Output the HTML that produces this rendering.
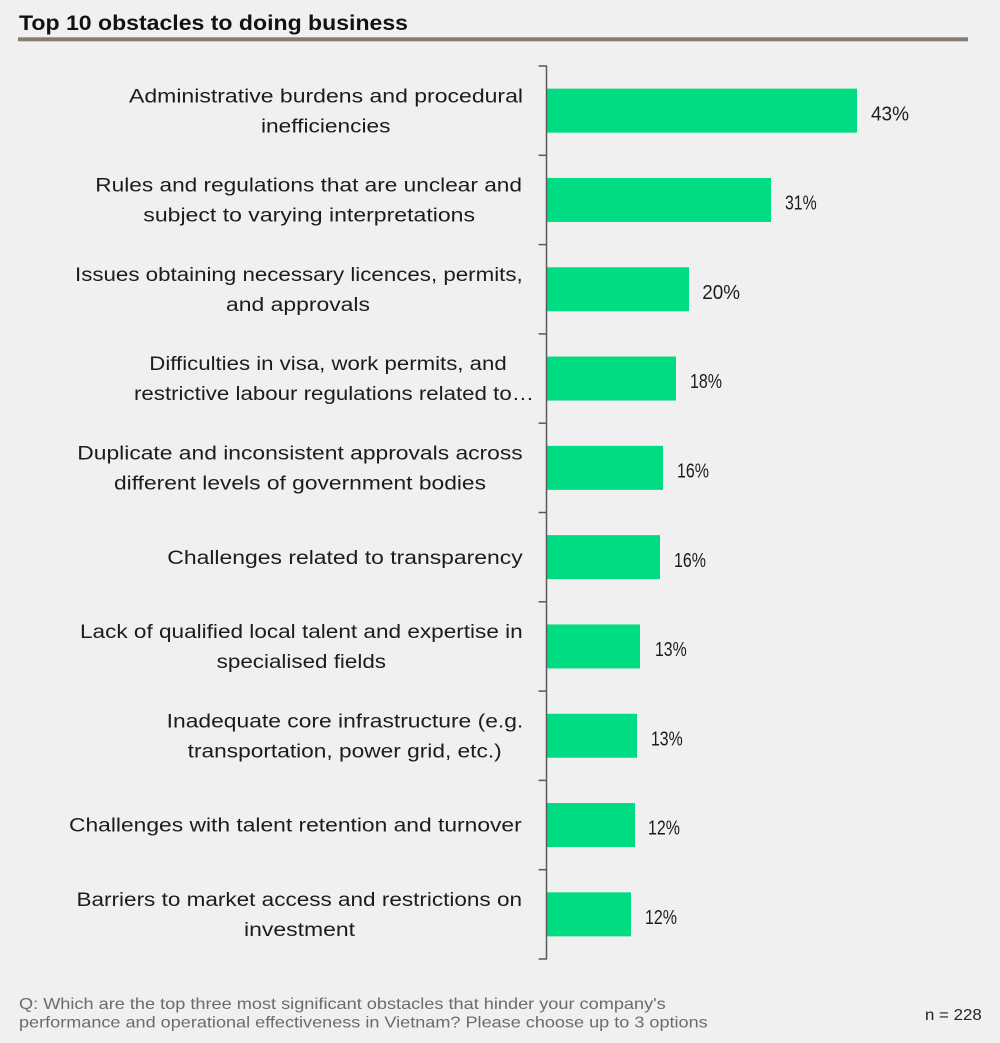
<!DOCTYPE html>
<html>
<head>
<meta charset="utf-8">
<style>
html,body{margin:0;padding:0;background:#f0f0f0;}
svg{display:block;}
text{font-family:"Liberation Sans",Arial,sans-serif;}
</style>
</head>
<body>
<svg width="1000" height="1043" viewBox="0 0 1000 1043" xmlns="http://www.w3.org/2000/svg">
<rect x="0" y="0" width="1000" height="1043" fill="#f0f0f0"/>
<!-- Title -->
<text x="19" y="30" font-size="21" font-weight="bold" fill="#111" textLength="389" lengthAdjust="spacingAndGlyphs">Top 10 obstacles to doing business</text>
<rect x="18" y="37.3" width="950" height="4" fill="#857d70"/>

<!-- Bars -->
<g fill="#00dc82">
<rect x="547" y="88.65" width="310" height="44"/>
<rect x="547" y="177.95" width="224" height="44"/>
<rect x="547" y="267.25" width="142" height="44"/>
<rect x="547" y="356.55" width="129" height="44"/>
<rect x="547" y="445.85" width="116" height="44"/>
<rect x="547" y="535.15" width="113" height="44"/>
<rect x="547" y="624.45" width="93" height="44"/>
<rect x="547" y="713.75" width="90" height="44"/>
<rect x="547" y="803.05" width="88" height="44"/>
<rect x="547" y="892.35" width="84" height="44"/>
</g>

<!-- Axis -->
<g stroke="#5a5a5a" stroke-width="1.5" fill="none">
<line x1="546.5" y1="66" x2="546.5" y2="959"/>
<line x1="538.5" y1="66" x2="547" y2="66"/>
<line x1="538.5" y1="155.3" x2="547" y2="155.3"/>
<line x1="538.5" y1="244.6" x2="547" y2="244.6"/>
<line x1="538.5" y1="333.9" x2="547" y2="333.9"/>
<line x1="538.5" y1="423.2" x2="547" y2="423.2"/>
<line x1="538.5" y1="512.5" x2="547" y2="512.5"/>
<line x1="538.5" y1="601.8" x2="547" y2="601.8"/>
<line x1="538.5" y1="691.1" x2="547" y2="691.1"/>
<line x1="538.5" y1="780.4" x2="547" y2="780.4"/>
<line x1="538.5" y1="869.7" x2="547" y2="869.7"/>
<line x1="538.5" y1="959" x2="547" y2="959"/>
</g>

<!-- Category labels -->
<g font-size="19" fill="#1c1c1c" lengthAdjust="spacingAndGlyphs">
<text x="129" y="102.3" textLength="394" lengthAdjust="spacingAndGlyphs">Administrative burdens and procedural</text>
<text x="261" y="132.3" textLength="129.5" lengthAdjust="spacingAndGlyphs">inefficiencies</text>

<text x="95.3" y="191.6" textLength="426.7" lengthAdjust="spacingAndGlyphs">Rules and regulations that are unclear and</text>
<text x="143.3" y="221.6" textLength="331.7" lengthAdjust="spacingAndGlyphs">subject to varying interpretations</text>

<text x="75" y="280.9" textLength="447.7" lengthAdjust="spacingAndGlyphs">Issues obtaining necessary licences, permits,</text>
<text x="226" y="310.9" textLength="144" lengthAdjust="spacingAndGlyphs">and approvals</text>

<text x="149.3" y="370.2" textLength="357.4" lengthAdjust="spacingAndGlyphs">Difficulties in visa, work permits, and</text>
<text x="134" y="400.2" textLength="400" lengthAdjust="spacingAndGlyphs">restrictive labour regulations related to…</text>

<text x="77.3" y="459.5" textLength="445.4" lengthAdjust="spacingAndGlyphs">Duplicate and inconsistent approvals across</text>
<text x="114" y="489.5" textLength="372" lengthAdjust="spacingAndGlyphs">different levels of government bodies</text>

<text x="167.3" y="563.8" textLength="355.4" lengthAdjust="spacingAndGlyphs">Challenges related to transparency</text>

<text x="80" y="638.1" textLength="442.7" lengthAdjust="spacingAndGlyphs">Lack of qualified local talent and expertise in</text>
<text x="216.7" y="668.1" textLength="169.3" lengthAdjust="spacingAndGlyphs">specialised fields</text>

<text x="166.7" y="727.4" textLength="356.6" lengthAdjust="spacingAndGlyphs">Inadequate core infrastructure (e.g.</text>
<text x="187.7" y="757.4" textLength="314" lengthAdjust="spacingAndGlyphs">transportation, power grid, etc.)</text>

<text x="69" y="831.7" textLength="452.7" lengthAdjust="spacingAndGlyphs">Challenges with talent retention and turnover</text>

<text x="76.5" y="906" textLength="445.5" lengthAdjust="spacingAndGlyphs">Barriers to market access and restrictions on</text>
<text x="244" y="936" textLength="111" lengthAdjust="spacingAndGlyphs">investment</text>
</g>

<!-- Value labels -->
<g font-size="20" fill="#1c1c1c">
<text x="871" y="120.3" textLength="38" lengthAdjust="spacingAndGlyphs">43%</text>
<text x="785" y="209.6" textLength="31.7" lengthAdjust="spacingAndGlyphs">31%</text>
<text x="702.3" y="298.9" textLength="37.7" lengthAdjust="spacingAndGlyphs">20%</text>
<text x="690" y="388.2" textLength="32" lengthAdjust="spacingAndGlyphs">18%</text>
<text x="677" y="477.5" textLength="32" lengthAdjust="spacingAndGlyphs">16%</text>
<text x="674" y="566.8" textLength="32" lengthAdjust="spacingAndGlyphs">16%</text>
<text x="655" y="656.1" textLength="31.7" lengthAdjust="spacingAndGlyphs">13%</text>
<text x="651" y="745.4" textLength="31.7" lengthAdjust="spacingAndGlyphs">13%</text>
<text x="648" y="834.7" textLength="32" lengthAdjust="spacingAndGlyphs">12%</text>
<text x="645" y="924" textLength="32" lengthAdjust="spacingAndGlyphs">12%</text>
</g>

<!-- Footer -->
<g font-size="16" fill="#6b6b6b">
<text x="19" y="1009" textLength="646.7" lengthAdjust="spacingAndGlyphs">Q: Which are the top three most significant obstacles that hinder your company's</text>
<text x="19" y="1027.5" textLength="688.7" lengthAdjust="spacingAndGlyphs">performance and operational effectiveness in Vietnam? Please choose up to 3 options</text>
</g>
<text x="925" y="1020" font-size="15.5" fill="#222" textLength="56.7" lengthAdjust="spacingAndGlyphs">n = 228</text>
</svg>
</body>
</html>
